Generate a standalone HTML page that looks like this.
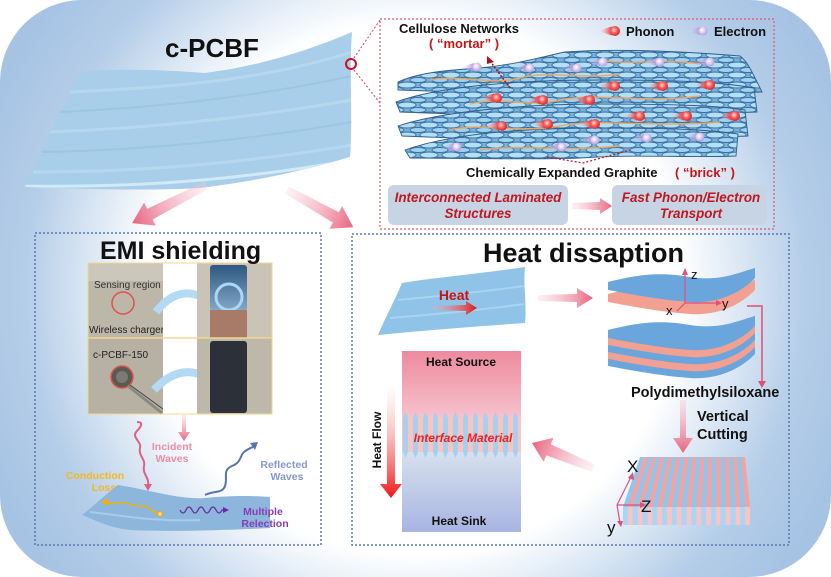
<!DOCTYPE html>
<html><head><meta charset="utf-8">
<style>
html,body{margin:0;padding:0;background:#fff;}
svg{display:block;}
text{font-family:"Liberation Sans",Arial,sans-serif;font-weight:bold;}
</style></head><body>
<svg width="831" height="577" viewBox="0 0 831 577" xmlns="http://www.w3.org/2000/svg">
<defs>
  <radialGradient id="bg" gradientUnits="userSpaceOnUse" cx="415" cy="288" r="460">
    <stop offset="0" stop-color="#ffffff"/>
    <stop offset="0.58" stop-color="#ffffff"/>
    <stop offset="0.85" stop-color="#b4cde8"/>
    <stop offset="1" stop-color="#a7c3e4"/>
  </radialGradient>
  <linearGradient id="pa" x1="0" y1="0" x2="1" y2="0">
    <stop offset="0" stop-color="#f7cdd6" stop-opacity="0.3"/>
    <stop offset="1" stop-color="#e8637f"/>
  </linearGradient>
  <linearGradient id="ra" x1="0" y1="0" x2="1" y2="0">
    <stop offset="0" stop-color="#f6b0b0" stop-opacity="0.3"/>
    <stop offset="1" stop-color="#e01818"/>
  </linearGradient>
  <linearGradient id="pcg" x1="0" y1="0" x2="1" y2="0">
    <stop offset="0" stop-color="#ffd0d0" stop-opacity="0"/>
    <stop offset="1" stop-color="#f03030"/>
  </linearGradient>
  <radialGradient id="pbg" cx="40%" cy="40%" r="60%">
    <stop offset="0" stop-color="#ffe0e0"/>
    <stop offset="0.5" stop-color="#f86060"/>
    <stop offset="1" stop-color="#e02828"/>
  </radialGradient>
  <linearGradient id="ecg" x1="0" y1="0" x2="1" y2="0">
    <stop offset="0" stop-color="#e8dcf4" stop-opacity="0"/>
    <stop offset="1" stop-color="#b094d8"/>
  </linearGradient>
  <radialGradient id="ebg" cx="40%" cy="40%" r="60%">
    <stop offset="0" stop-color="#ffffff"/>
    <stop offset="1" stop-color="#b89ee0"/>
  </radialGradient>
  <linearGradient id="hs" x1="0" y1="0" x2="0" y2="1">
    <stop offset="0" stop-color="#ee8a9e"/>
    <stop offset="1" stop-color="#f8d0d8"/>
  </linearGradient>
  <linearGradient id="hk" x1="0" y1="0" x2="0" y2="1">
    <stop offset="0" stop-color="#e0eaf0"/>
    <stop offset="1" stop-color="#a8b4e2"/>
  </linearGradient>
  <linearGradient id="hf" x1="0" y1="0" x2="0" y2="1">
    <stop offset="0" stop-color="#ffffff" stop-opacity="0.3"/>
    <stop offset="1" stop-color="#f01515"/>
  </linearGradient>
  <linearGradient id="pd" x1="0" y1="0" x2="0" y2="1">
    <stop offset="0" stop-color="#f7cdd6" stop-opacity="0.4"/>
    <stop offset="1" stop-color="#e8637f"/>
  </linearGradient>
  <linearGradient id="phone" x1="0" y1="0" x2="0" y2="1">
    <stop offset="0" stop-color="#2e5880"/>
    <stop offset="1" stop-color="#86a8c6"/>
  </linearGradient>
  <pattern id="net" x="0" y="0" width="22" height="10" patternUnits="userSpaceOnUse">
    <rect width="22" height="10" fill="#78b2de"/>
    <ellipse cx="11" cy="5" rx="9" ry="3" fill="#b4e0f6" stroke="#3a6e9e" stroke-width="0.9"/>
    <ellipse cx="0" cy="0" rx="8" ry="2.5" fill="#9ed2f0" stroke="#3a6e9e" stroke-width="0.9"/>
    <ellipse cx="22" cy="0" rx="8" ry="2.5" fill="#9ed2f0" stroke="#3a6e9e" stroke-width="0.9"/>
    <ellipse cx="0" cy="10" rx="8" ry="2.5" fill="#9ed2f0" stroke="#3a6e9e" stroke-width="0.9"/>
    <ellipse cx="22" cy="10" rx="8" ry="2.5" fill="#9ed2f0" stroke="#3a6e9e" stroke-width="0.9"/>
  </pattern>
  <pattern id="iface" x="402" y="412" width="10" height="46" patternUnits="userSpaceOnUse">
    <rect x="0" y="6" width="10" height="34" fill="#f9c6bf"/>
    <polygon points="1,6 3.5,0 6,6 6,40 3.5,46 1,40" fill="#a6cff0"/>
  </pattern>
  <clipPath id="sheetclip">
    <path d="M80,72 C120,68 165,70 205,73 C260,66 310,50 352,32 C349,70 353,120 350,157 C300,172 250,182 200,188 C150,191 80,189 25,187 C42,150 60,110 80,72 Z"/>
  </clipPath>
  <g id="ph"><polygon points="-17,0 -3,-4.5 -3,4.5" fill="url(#pcg)"/><circle r="5" fill="url(#pbg)"/></g>
  <g id="el"><polygon points="-16,0 -3,-4 -3,4" fill="url(#ecg)"/><circle r="4.5" fill="url(#ebg)"/></g>
</defs>

<!-- background -->
<rect x="0" y="0" width="831" height="577" fill="#ffffff"/>
<rect x="0" y="0" width="831" height="577" rx="82" ry="82" fill="url(#bg)"/>

<!-- c-PCBF sheet -->
<path d="M80,72 C120,68 165,70 205,73 C260,66 310,50 352,32 C349,70 353,120 350,157 C300,172 250,182 200,188 C150,191 80,189 25,187 C42,150 60,110 80,72 Z" fill="#a8cee9"/>
<g clip-path="url(#sheetclip)" fill="none">
  <path d="M70,92 C150,88 250,84 352,52" stroke="#c0e0f4" stroke-width="3" opacity="0.6"/>
  <path d="M60,112 C150,108 250,98 352,76" stroke="#92bde0" stroke-width="2" opacity="0.5"/>
  <path d="M50,132 C150,128 250,118 352,100" stroke="#c0e0f4" stroke-width="3" opacity="0.6"/>
  <path d="M42,152 C150,150 250,140 352,122" stroke="#92bde0" stroke-width="2" opacity="0.5"/>
  <path d="M33,172 C150,172 250,162 352,145" stroke="#c0e0f4" stroke-width="3" opacity="0.6"/>
  <path d="M20,186 C150,188 250,178 352,160" stroke="#d0eaf8" stroke-width="3"/>
</g>
<text x="165" y="57" font-size="26" fill="#111">c-PCBF</text>

<!-- zoom circle and lines -->
<circle cx="351" cy="64" r="5" fill="none" stroke="#cc1020" stroke-width="2"/>
<path d="M354,58 L380,20 M354,70 L380,103" stroke="#e05a6a" stroke-width="1.2" stroke-dasharray="2,2" fill="none"/>
<rect x="380" y="19" width="394" height="210" fill="none" stroke="#e05a6a" stroke-width="1.2" stroke-dasharray="2,2"/>

<!-- top arrows -->
<g transform="translate(207,185) rotate(153)"><polygon points="0,-4 64,-6 64,-13 84,0 64,13 64,6 0,4" fill="url(#pa)"/></g>
<g transform="translate(287,190) rotate(29.3)"><polygon points="0,-4 56,-6 56,-13 76,0 56,13 56,6 0,4" fill="url(#pa)"/></g>

<!-- network -->
<text x="399" y="33" font-size="13" fill="#111">Cellulose Networks</text>
<text x="429" y="48" font-size="13" fill="#c01818">(  “mortar”  )</text>
<use href="#ph" x="615" y="31"/>
<text x="626" y="36" font-size="13" fill="#111">Phonon</text>
<use href="#el" x="703" y="31"/>
<text x="714" y="36" font-size="13" fill="#111">Electron</text>

<path d="M398,82 C420,72 450,70 480,68 C520,64 545,56 565,52 C620,48 690,52 740,56 C748,62 752,72 762,92 C700,94 650,90 600,94 C540,96 470,92 398,90 Z" fill="url(#net)" stroke="#2f5f8a" stroke-width="0.9"/>
<path d="M396,102 C440,86 520,80 600,80 C680,80 720,82 754,88 L757,112 C700,114 640,110 580,114 C520,118 460,114 400,112 Z" fill="url(#net)" stroke="#2f5f8a" stroke-width="0.9"/>
<path d="M398,126 C440,112 520,104 600,104 C680,104 720,106 745,110 L748,136 C700,138 640,134 580,138 C520,142 460,138 402,136 Z" fill="url(#net)" stroke="#2f5f8a" stroke-width="0.9"/>
<path d="M405,150 C450,134 520,128 600,128 C680,128 710,130 738,134 L736,156 C690,158 640,154 580,158 C520,160 460,158 410,158 Z" fill="url(#net)" stroke="#2f5f8a" stroke-width="0.9"/>
<g fill="none" stroke="#f2a660" stroke-width="1.5" opacity="0.9">
  <path d="M430,80 C460,74 490,86 520,78 C550,70 580,80 620,74"/>
  <path d="M470,104 C500,96 530,108 560,100 C600,92 640,104 700,96"/>
  <path d="M450,130 C480,122 520,134 560,126 C600,118 650,128 720,122"/>
  <path d="M600,60 C630,66 660,58 700,64"/>
  <path d="M480,150 C520,144 560,152 620,146"/>
</g>
<path d="M510,88 L490,61" stroke="#b01020" stroke-width="1.5" stroke-dasharray="2,1.5" fill="none"/>
<polygon points="487,56 494,62 487,64" fill="#b01020"/>
<use href="#el" x="477" y="67"/><use href="#el" x="530" y="68"/><use href="#el" x="577" y="68"/>
<use href="#el" x="603" y="62"/><use href="#el" x="660" y="62"/><use href="#el" x="710" y="62"/>
<use href="#el" x="457" y="147"/><use href="#el" x="562" y="147"/><use href="#el" x="595" y="140"/>
<use href="#el" x="647" y="138"/><use href="#el" x="700" y="137"/>
<use href="#ph" x="497" y="98"/><use href="#ph" x="543" y="100"/><use href="#ph" x="590" y="100"/>
<use href="#ph" x="615" y="86"/><use href="#ph" x="663" y="86"/><use href="#ph" x="710" y="85"/>
<use href="#ph" x="640" y="116"/><use href="#ph" x="687" y="116"/><use href="#ph" x="735" y="116"/>
<use href="#ph" x="502" y="126"/><use href="#ph" x="548" y="124"/><use href="#ph" x="595" y="124"/>
<path d="M547,157 L583,163 L630,150" stroke="#c02030" stroke-width="1.3" stroke-dasharray="2,2" fill="none"/>
<text x="466" y="177" font-size="13" fill="#111">Chemically Expanded Graphite</text>
<text x="675" y="177" font-size="13" fill="#c01818">(  “brick”  )</text>

<rect x="388" y="185" width="180" height="40" rx="6" fill="#c7d4e3"/>
<rect x="612" y="185" width="155" height="40" rx="6" fill="#c7d4e3"/>
<g font-style="italic" font-size="13.4" fill="#c01820" text-anchor="middle">
  <text x="478" y="202">Interconnected Laminated</text>
  <text x="478" y="218">Structures</text>
  <text x="691" y="202">Fast Phonon/Electron</text>
  <text x="691" y="218">Transport</text>
</g>
<polygon points="572,203 600,202 600,198 612,206 600,214 600,210 572,209" fill="url(#pa)"/>

<!-- EMI panel -->
<rect x="35" y="233" width="286" height="312" fill="none" stroke="#5a78b0" stroke-width="1.5" stroke-dasharray="2,2"/>

<!-- photos -->
<rect x="88" y="263" width="75" height="75" fill="#bcb7a8"/>
<rect x="88" y="263" width="75" height="18" fill="#cbc7ba"/>
<text x="94" y="288" font-size="10" fill="#333" style="font-weight:normal">Sensing region</text>
<circle cx="123" cy="303" r="11" fill="none" stroke="#e05050" stroke-width="1.5"/>
<text x="89" y="333" font-size="10" fill="#222" style="font-weight:normal">Wireless charger</text>
<rect x="88" y="338" width="75" height="76" fill="#b6b1a2"/>
<text x="93" y="358" font-size="10" fill="#222" style="font-weight:normal">c-PCBF-150</text>
<circle cx="122" cy="377" r="11" fill="#5a5a55" stroke="#e05050" stroke-width="1.5"/>
<circle cx="122" cy="377" r="6" fill="#7a7a72"/>
<path d="M128,386 L162,413" stroke="#8a8a80" stroke-width="3"/>
<path d="M130,385 L163,409" stroke="#444" stroke-width="1"/>
<rect x="163" y="263" width="34" height="151" fill="#ffffff"/>
<path d="M156,312 Q178,284 204,298" stroke="#b2daf4" stroke-width="8" fill="none"/>
<polygon points="199,289 211,301 197,305" fill="#b2daf4"/>
<path d="M154,390 Q178,364 204,376" stroke="#b2daf4" stroke-width="8" fill="none"/>
<polygon points="199,367 211,379 197,383" fill="#b2daf4"/>
<rect x="197" y="263" width="75" height="75" fill="#c9c4b6"/>
<rect x="210" y="265" width="37" height="46" rx="3" fill="url(#phone)"/>
<circle cx="229" cy="297" r="13" fill="none" stroke="#a8d8f8" stroke-width="3"/>
<rect x="210" y="310" width="37" height="28" fill="#a87a68"/>
<rect x="197" y="338" width="75" height="76" fill="#bdb8aa"/>
<rect x="210" y="341" width="37" height="72" rx="3" fill="#2c3038"/>
<rect x="88" y="263" width="184" height="151" fill="none" stroke="#f0d890" stroke-width="1"/>
<line x1="88" y1="338" x2="272" y2="338" stroke="#f0d890" stroke-width="1.5"/>
<text x="100" y="259" font-size="25" fill="#111">EMI shielding</text>

<!-- EMI bottom -->
<polygon points="182,415 186,415 186,432 190,432 184,441 178,432 182,432" fill="url(#pd)"/>
<path d="M137,422 C145,422 140,428 136,432 C132,438 142,442 140,448 C138,455 146,460 144,466 C142,474 150,478 148,486" stroke="#e06080" stroke-width="2" fill="none"/>
<polygon points="144,484 152,484 148,491" fill="#e06080"/>
<g font-size="10.5" text-anchor="middle">
  <text x="172" y="450" fill="#ea8ea6">Incident</text>
  <text x="172" y="462" fill="#ea8ea6">Waves</text>
  <text x="284" y="468" fill="#8898c8">Reflected</text>
  <text x="287" y="480" fill="#8898c8">Waves</text>
  <text x="95" y="479" fill="#f5b820">Conduction</text>
  <text x="104" y="491" fill="#f5b820">Loss</text>
</g>
<path d="M82,515 C95,505 108,492 118,485 C150,490 180,500 205,498 C235,495 255,496 270,497 L270,528 C230,530 170,532 130,530 C110,528 95,520 82,515 Z" fill="#8cb6dc"/>
<path d="M90,512 C120,515 150,522 200,520" stroke="#a8cce8" stroke-width="2" fill="none"/>
<path d="M205,495 C215,490 222,494 225,486 C228,478 222,470 232,466 C242,462 240,455 244,452 C248,449 250,448 253,447" stroke="#5874b0" stroke-width="2" fill="none"/>
<polygon points="250,443 258,442 255,450" fill="#5874b0"/>
<path d="M160,514 C150,512 150,505 140,506 C130,507 128,500 118,503 C112,505 110,502 106,502" stroke="#f5b000" stroke-width="1.5" fill="none"/>
<polygon points="101,502 108,498 108,506" fill="#f5b000"/>
<circle cx="160" cy="514" r="2.5" fill="#ffd080" stroke="#f5a000" stroke-width="1"/>
<path d="M180,510 q3,6 6,0 q3,-6 6,0 q3,6 6,0 q3,-6 6,0 q3,6 6,0 q3,-6 6,0 q3,6 6,0 L224,510" stroke="#6a2aa0" stroke-width="1.3" fill="none"/>
<polygon points="223,507 229,510 223,513" fill="#6a2aa0"/>
<g font-size="10.5" text-anchor="middle" fill="#8a3cb8">
  <text x="263" y="515">Multiple</text>
  <text x="265" y="527">Relection</text>
</g>

<!-- Heat panel -->
<rect x="352" y="234" width="437" height="311" fill="none" stroke="#5a78b0" stroke-width="1.5" stroke-dasharray="2,2"/>
<text x="483" y="262" font-size="27" fill="#111">Heat dissaption</text>

<path d="M402,283 C430,278 470,275 525,267 C523,285 527,305 525,323 C480,326 430,330 378,335 C385,318 395,300 402,283 Z" fill="#8fc3e8"/>
<path d="M398,300 C440,296 480,292 524,286 M390,318 C440,314 480,310 524,304" stroke="#a8d4f0" stroke-width="2" fill="none"/>
<text x="454" y="300" font-size="14" fill="#cc1111" text-anchor="middle">Heat</text>
<polygon points="433,306 466,305 466,301 477,308 466,315 466,311 433,310" fill="url(#ra)"/>
<polygon points="538,295 577,294 577,288 593,298 577,308 577,302 538,301" fill="url(#pa)"/>

<!-- layered stack -->
<g>
  <path transform="translate(0,28)" d="M608,330 C640,322 660,320 690,325 C720,330 740,320 755,316 L755,326 C740,342 715,352 690,350 C660,348 630,342 608,338 Z" fill="#6aa6dc"/>
  <path transform="translate(0,21)" d="M608,330 C640,322 660,320 690,325 C720,330 740,320 755,316 L755,326 C740,342 715,352 690,350 C660,348 630,342 608,338 Z" fill="#f2a092"/>
  <path transform="translate(0,14)" d="M608,330 C640,322 660,320 690,325 C720,330 740,320 755,316 L755,326 C740,342 715,352 690,350 C660,348 630,342 608,338 Z" fill="#6aa6dc"/>
  <path transform="translate(0,7)" d="M608,330 C640,322 660,320 690,325 C720,330 740,320 755,316 L755,326 C740,342 715,352 690,350 C660,348 630,342 608,338 Z" fill="#f2a092"/>
  <path d="M608,330 C640,322 660,320 690,325 C720,330 740,320 755,316 L755,326 C740,342 715,352 690,350 C660,348 630,342 608,338 Z" fill="#6aa6dc"/>
  <path transform="translate(0,-36)" d="M608,330 C640,322 660,320 690,325 C720,330 740,320 755,316 L755,326 C740,342 715,352 690,350 C660,348 630,342 608,338 Z" fill="#f2a092"/>
  <path transform="translate(0,-48)" d="M608,330 C640,322 660,320 690,325 C720,330 740,320 755,316 L755,326 C740,342 715,352 690,350 C660,348 630,342 608,338 Z" fill="#6aa6dc"/>
</g>
<g stroke="#e0507a" stroke-width="1.2" fill="none">
  <path d="M685,303 L685,273 M685,303 L718,303 M685,303 L677,311"/>
</g>
<polygon points="682,275 685,268 688,275" fill="#e0507a"/>
<polygon points="716,300 722,303 716,306" fill="#e0507a"/>
<g font-size="13" fill="#111">
  <text x="691" y="279" style="font-weight:normal">z</text>
  <text x="722" y="308" style="font-weight:normal">y</text>
  <text x="666" y="315" style="font-weight:normal">x</text>
</g>
<path d="M747,306 L762,306 L762,382" stroke="#e05070" stroke-width="1.5" fill="none"/>
<polygon points="758,381 766,381 762,388" fill="#e05070"/>
<text x="631" y="397" font-size="14.5" fill="#111">Polydimethylsiloxane</text>
<polygon points="680,400 686,400 686,438 693,438 683,453 673,438 680,438" fill="url(#pd)"/>
<text x="697" y="421" font-size="14.5" fill="#111">Vertical</text>
<text x="697" y="439" font-size="14.5" fill="#111">Cutting</text>

<!-- striped block -->
<polygon points="640,457 745,457 750,507 623,507" fill="#8ec6f0"/>
<g fill="#f4a4a0">
  <polygon points="644.0,457 648.1,457 632.8,507 627.9,507"/>
  <polygon points="652.1,457 656.2,457 642.5,507 637.7,507"/>
  <polygon points="660.2,457 664.2,457 652.3,507 647.4,507"/>
  <polygon points="668.3,457 672.3,457 662.1,507 657.2,507"/>
  <polygon points="676.3,457 680.4,457 671.9,507 667.0,507"/>
  <polygon points="684.4,457 688.5,457 681.6,507 676.7,507"/>
  <polygon points="692.5,457 696.5,457 691.4,507 686.5,507"/>
  <polygon points="700.6,457 704.6,457 701.2,507 696.3,507"/>
  <polygon points="708.6,457 712.7,457 710.9,507 706.0,507"/>
  <polygon points="716.7,457 720.8,457 720.7,507 715.8,507"/>
  <polygon points="724.8,457 728.8,457 730.5,507 725.6,507"/>
  <polygon points="732.9,457 736.9,457 740.2,507 735.4,507"/>
  <polygon points="740.9,457 745.0,457 750.0,507 745.1,507"/>
</g>
<rect x="623" y="507" width="127" height="18" fill="#a8d6f8"/>
<g fill="#f8c4c4">
  <rect x="627.9" y="507" width="4.9" height="18"/><rect x="637.7" y="507" width="4.9" height="18"/>
  <rect x="647.4" y="507" width="4.9" height="18"/><rect x="657.2" y="507" width="4.9" height="18"/>
  <rect x="667.0" y="507" width="4.9" height="18"/><rect x="676.7" y="507" width="4.9" height="18"/>
  <rect x="686.5" y="507" width="4.9" height="18"/><rect x="696.3" y="507" width="4.9" height="18"/>
  <rect x="706.0" y="507" width="4.9" height="18"/><rect x="715.8" y="507" width="4.9" height="18"/>
  <rect x="725.6" y="507" width="4.9" height="18"/><rect x="735.4" y="507" width="4.9" height="18"/>
  <rect x="745.1" y="507" width="4.9" height="18"/>
</g>
<g stroke="#e0507a" stroke-width="1.2" fill="none">
  <path d="M617,505 L631,477 M617,505 L642,505 M617,505 L620,523"/>
</g>
<polygon points="628,478 633,472 634,480" fill="#e0507a"/>
<polygon points="640,502 646,505 640,508" fill="#e0507a"/>
<polygon points="617,521 623,521 621,527" fill="#e0507a"/>
<g font-size="17" fill="#111">
  <text x="627" y="472" style="font-weight:normal">X</text>
  <text x="641" y="512" style="font-weight:normal">Z</text>
  <text x="607" y="533" style="font-weight:normal">y</text>
</g>
<g transform="translate(593,468) rotate(202.3)"><polygon points="0,-4 48,-6 48,-13 66,0 48,13 48,6 0,4" fill="url(#pa)"/></g>

<!-- heat column -->
<rect x="402" y="351" width="119" height="84" fill="url(#hs)"/>
<rect x="402" y="435" width="119" height="97" fill="url(#hk)"/>
<rect x="402" y="412" width="119" height="46" fill="url(#iface)"/>
<text x="461" y="366" font-size="12" fill="#111" text-anchor="middle">Heat Source</text>
<text x="463" y="442" font-size="12" font-style="italic" fill="#ee2222" text-anchor="middle">Interface Material</text>
<text x="459" y="525" font-size="12" fill="#111" text-anchor="middle">Heat Sink</text>
<polygon points="387,383 395,383 395,484 402,484 391,498 380,484 387,484" fill="url(#hf)"/>
<text transform="translate(381,440) rotate(-90)" font-size="12" fill="#111" text-anchor="middle">Heat Flow</text>
</svg>
</body></html>
